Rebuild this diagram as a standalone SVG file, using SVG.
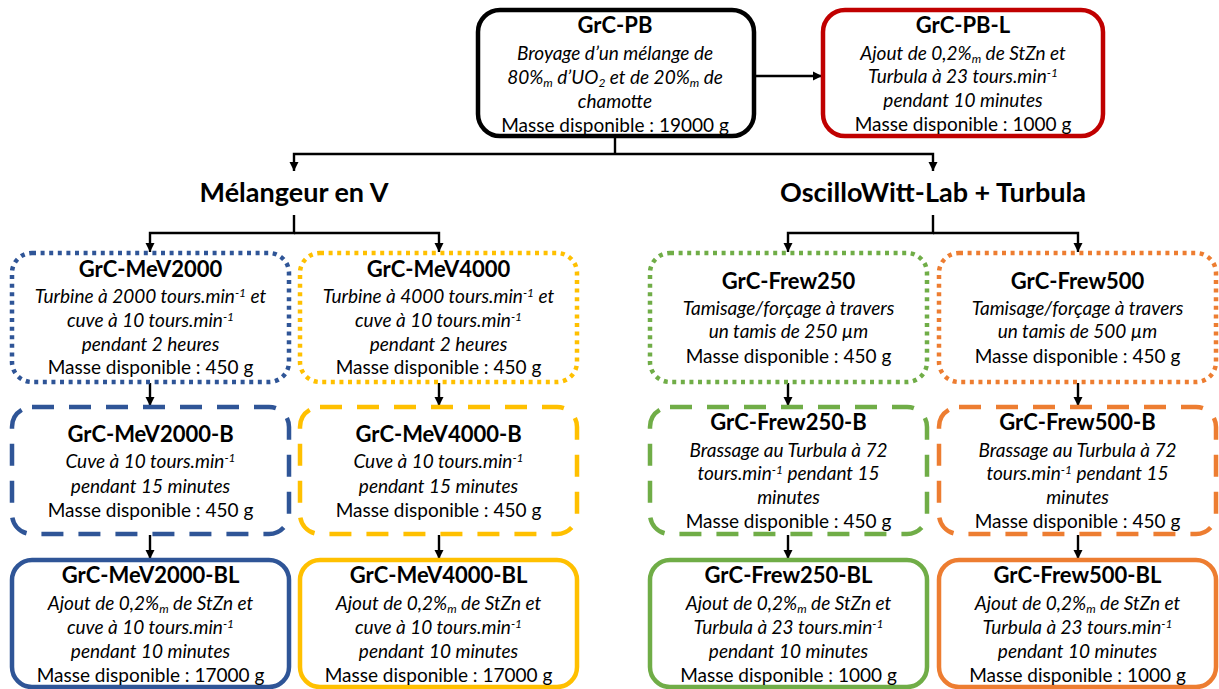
<svg xmlns="http://www.w3.org/2000/svg" width="1219" height="689" viewBox="0 0 1219 689">
<defs>
<marker id="ah" markerUnits="userSpaceOnUse" markerWidth="9" markerHeight="10" refX="9" refY="5" orient="auto">
<path d="M0,0.5 L9,5 L0,9.5 z" fill="#000"/>
</marker>
<style>
text{font-family:Lato,"Open Sans","Liberation Sans",sans-serif;text-anchor:middle;fill:#000}
.t{font-weight:700;font-size:22px}
.h{font-weight:700;font-size:27px}
.i{font-style:italic;font-size:19px}
.m{font-size:19px}
.s{font-size:12px}
.box{fill:#fff;stroke-width:4.5}
.dot{stroke-dasharray:4 4.6}
.dash{stroke-dasharray:22 15}
.blue{stroke:#2F5597}.yel{stroke:#FFC000}.grn{stroke:#70AD47}.org{stroke:#ED7D31}
.conn path{stroke:#000;stroke-width:2.4;fill:none}
</style>
</defs>
<rect width="1219" height="689" fill="#fff"/>

<g id="connectors" class="conn">
<path d="M756,76 H822" marker-end="url(#ah)"/>
<path d="M615,138 V154"/>
<path d="M615,154 H294 V171" marker-end="url(#ah)"/>
<path d="M615,154 H933 V171" marker-end="url(#ah)"/>
<path d="M294,215 V233 H150 V252" marker-end="url(#ah)"/>
<path d="M294,233 H439 V252" marker-end="url(#ah)"/>
<path d="M933,215 V233 H788 V252" marker-end="url(#ah)"/>
<path d="M933,233 H1078 V252" marker-end="url(#ah)"/>
<path d="M150,383 V406" marker-end="url(#ah)"/>
<path d="M439,383 V406" marker-end="url(#ah)"/>
<path d="M788,383 V406" marker-end="url(#ah)"/>
<path d="M1078,383 V406" marker-end="url(#ah)"/>
<path d="M150,535 V559" marker-end="url(#ah)"/>
<path d="M439,535 V559" marker-end="url(#ah)"/>
<path d="M788,535 V559" marker-end="url(#ah)"/>
<path d="M1078,535 V559" marker-end="url(#ah)"/>
</g>

<g id="GrC-PB">
<rect class="box" x="478" y="10" width="276" height="126" rx="22" stroke="#000"/>
<text class="t" x="615" y="33">GrC-PB</text>
<text class="i" x="615" y="60">Broyage d’un mélange de</text>
<text class="i" x="615" y="84">80%<tspan class="s" dy="3">m</tspan><tspan dy="-3"> d’UO</tspan><tspan class="s" dy="3">2</tspan><tspan dy="-3"> et de 20%</tspan><tspan class="s" dy="3">m</tspan><tspan dy="-3"> de</tspan></text>
<text class="i" x="615" y="108">chamotte</text>
<text class="m" x="615" y="132">Masse disponible : 19000 g</text>
</g>

<g id="GrC-PB-L">
<rect class="box" x="823" y="10" width="280" height="126" rx="22" stroke="#C00000"/>
<text class="t" x="963" y="33">GrC-PB-L</text>
<text class="i" x="963" y="60">Ajout de 0,2%<tspan class="s" dy="3">m</tspan><tspan dy="-3"> de StZn et</tspan></text>
<text class="i" x="963" y="83">Turbula à 23 tours.min<tspan class="s" dy="-6">-1</tspan></text>
<text class="i" x="963" y="107">pendant 10 minutes</text>
<text class="m" x="963" y="131">Masse disponible : 1000 g</text>
</g>

<g id="header-melangeur">
<text class="h" x="294" y="202">Mélangeur en V</text>
</g>
<g id="header-oscillowitt">
<text class="h" x="933" y="202">OscilloWitt-Lab + Turbula</text>
</g>

<g id="GrC-MeV2000">
<rect class="box dot blue" x="12" y="253" width="277" height="129" rx="20"/>
<text class="t" x="150.5" y="277">GrC-MeV2000</text>
<text class="i" x="150.5" y="303">Turbine à 2000 tours.min<tspan class="s" dy="-6">-1</tspan><tspan dy="6"> et</tspan></text>
<text class="i" x="150.5" y="327">cuve à 10 tours.min<tspan class="s" dy="-6">-1</tspan></text>
<text class="i" x="150.5" y="351">pendant 2 heures</text>
<text class="m" x="150.5" y="374">Masse disponible : 450 g</text>
</g>

<g id="GrC-MeV4000">
<rect class="box dot yel" x="300" y="253" width="277" height="129" rx="20"/>
<text class="t" x="438.5" y="277">GrC-MeV4000</text>
<text class="i" x="438.5" y="303">Turbine à 4000 tours.min<tspan class="s" dy="-6">-1</tspan><tspan dy="6"> et</tspan></text>
<text class="i" x="438.5" y="327">cuve à 10 tours.min<tspan class="s" dy="-6">-1</tspan></text>
<text class="i" x="438.5" y="351">pendant 2 heures</text>
<text class="m" x="438.5" y="374">Masse disponible : 450 g</text>
</g>

<g id="GrC-Frew250">
<rect class="box dot grn" x="650" y="253" width="277" height="129" rx="20"/>
<text class="t" x="788.5" y="289">GrC-Frew250</text>
<text class="i" x="788.5" y="315">Tamisage/forçage à travers</text>
<text class="i" x="788.5" y="338">un tamis de 250 µm</text>
<text class="m" x="788.5" y="363">Masse disponible : 450 g</text>
</g>

<g id="GrC-Frew500">
<rect class="box dot org" x="939" y="253" width="277" height="129" rx="20"/>
<text class="t" x="1077.5" y="289">GrC-Frew500</text>
<text class="i" x="1077.5" y="315">Tamisage/forçage à travers</text>
<text class="i" x="1077.5" y="338">un tamis de 500 µm</text>
<text class="m" x="1077.5" y="363">Masse disponible : 450 g</text>
</g>

<g id="GrC-MeV2000-B">
<rect class="box dash blue" x="12" y="407" width="277" height="127" rx="20"/>
<text class="t" x="150.5" y="442">GrC-MeV2000-B</text>
<text class="i" x="150.5" y="468">Cuve à 10 tours.min<tspan class="s" dy="-6">-1</tspan></text>
<text class="i" x="150.5" y="493">pendant 15 minutes</text>
<text class="m" x="150.5" y="517">Masse disponible : 450 g</text>
</g>

<g id="GrC-MeV4000-B">
<rect class="box dash yel" x="300" y="407" width="277" height="127" rx="20"/>
<text class="t" x="438.5" y="442">GrC-MeV4000-B</text>
<text class="i" x="438.5" y="468">Cuve à 10 tours.min<tspan class="s" dy="-6">-1</tspan></text>
<text class="i" x="438.5" y="493">pendant 15 minutes</text>
<text class="m" x="438.5" y="517">Masse disponible : 450 g</text>
</g>

<g id="GrC-Frew250-B">
<rect class="box dash grn" x="650" y="407" width="277" height="127" rx="20"/>
<text class="t" x="788.5" y="430">GrC-Frew250-B</text>
<text class="i" x="788.5" y="457">Brassage au Turbula à 72</text>
<text class="i" x="788.5" y="480">tours.min<tspan class="s" dy="-6">-1</tspan><tspan dy="6"> pendant 15</tspan></text>
<text class="i" x="788.5" y="504">minutes</text>
<text class="m" x="788.5" y="528">Masse disponible : 450 g</text>
</g>

<g id="GrC-Frew500-B">
<rect class="box dash org" x="939" y="407" width="277" height="127" rx="20"/>
<text class="t" x="1077.5" y="430">GrC-Frew500-B</text>
<text class="i" x="1077.5" y="457">Brassage au Turbula à 72</text>
<text class="i" x="1077.5" y="480">tours.min<tspan class="s" dy="-6">-1</tspan><tspan dy="6"> pendant 15</tspan></text>
<text class="i" x="1077.5" y="504">minutes</text>
<text class="m" x="1077.5" y="528">Masse disponible : 450 g</text>
</g>

<g id="GrC-MeV2000-BL">
<rect class="box blue" x="12" y="560" width="277" height="127" rx="20"/>
<text class="t" x="150.5" y="583">GrC-MeV2000-BL</text>
<text class="i" x="150.5" y="610">Ajout de 0,2%<tspan class="s" dy="3">m</tspan><tspan dy="-3"> de StZn et</tspan></text>
<text class="i" x="150.5" y="634">cuve à 10 tours.min<tspan class="s" dy="-6">-1</tspan></text>
<text class="i" x="150.5" y="658">pendant 10 minutes</text>
<text class="m" x="150.5" y="682">Masse disponible : 17000 g</text>
</g>

<g id="GrC-MeV4000-BL">
<rect class="box yel" x="300" y="560" width="277" height="127" rx="20"/>
<text class="t" x="438.5" y="583">GrC-MeV4000-BL</text>
<text class="i" x="438.5" y="610">Ajout de 0,2%<tspan class="s" dy="3">m</tspan><tspan dy="-3"> de StZn et</tspan></text>
<text class="i" x="438.5" y="634">cuve à 10 tours.min<tspan class="s" dy="-6">-1</tspan></text>
<text class="i" x="438.5" y="658">pendant 10 minutes</text>
<text class="m" x="438.5" y="682">Masse disponible : 17000 g</text>
</g>

<g id="GrC-Frew250-BL">
<rect class="box grn" x="650" y="560" width="277" height="127" rx="20"/>
<text class="t" x="788.5" y="583">GrC-Frew250-BL</text>
<text class="i" x="788.5" y="610">Ajout de 0,2%<tspan class="s" dy="3">m</tspan><tspan dy="-3"> de StZn et</tspan></text>
<text class="i" x="788.5" y="634">Turbula à 23 tours.min<tspan class="s" dy="-6">-1</tspan></text>
<text class="i" x="788.5" y="658">pendant 10 minutes</text>
<text class="m" x="788.5" y="682">Masse disponible : 1000 g</text>
</g>

<g id="GrC-Frew500-BL">
<rect class="box org" x="939" y="560" width="277" height="127" rx="20"/>
<text class="t" x="1077.5" y="583">GrC-Frew500-BL</text>
<text class="i" x="1077.5" y="610">Ajout de 0,2%<tspan class="s" dy="3">m</tspan><tspan dy="-3"> de StZn et</tspan></text>
<text class="i" x="1077.5" y="634">Turbula à 23 tours.min<tspan class="s" dy="-6">-1</tspan></text>
<text class="i" x="1077.5" y="658">pendant 10 minutes</text>
<text class="m" x="1077.5" y="682">Masse disponible : 1000 g</text>
</g>
</svg>
